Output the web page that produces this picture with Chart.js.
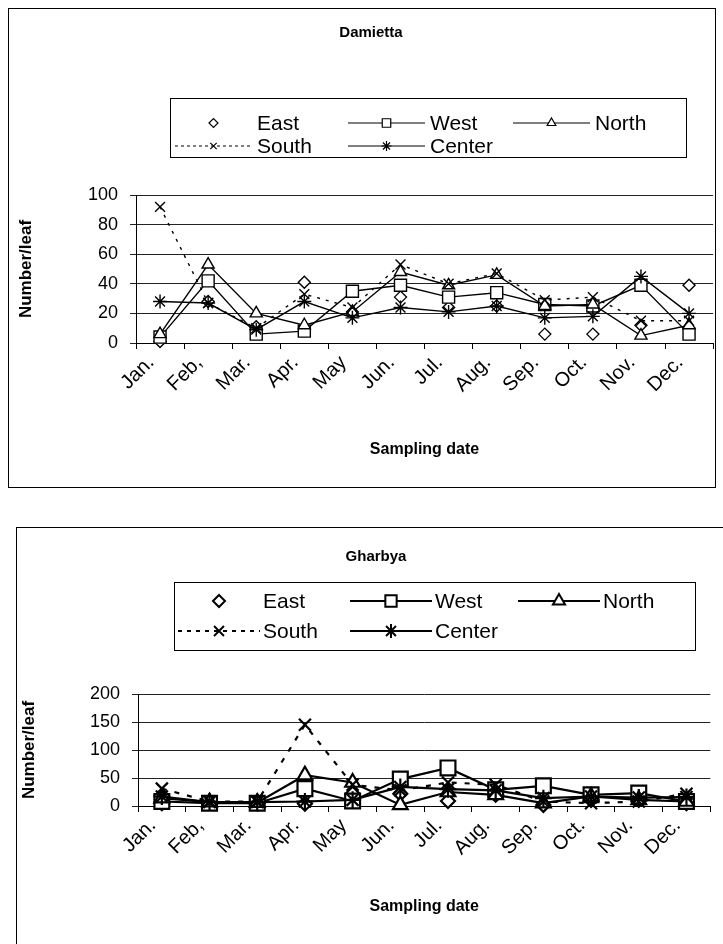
<!DOCTYPE html>
<html>
<head>
<meta charset="utf-8">
<script src="https://cdn.jsdelivr.net/npm/chart.js@4.4.1/dist/chart.umd.min.js"></script>
<style>
  html, body { margin: 0; padding: 0; background: #fff; overflow: hidden; }
  body { width: 723px; height: 944px; position: relative; }
  canvas { position: absolute; left: 0; }
  .frame { position: absolute; border: 1px solid #000; box-sizing: border-box; }
</style>
</head>
<body>
<div class="frame" style="left:8px;top:8px;width:708px;height:480px"></div>
<div class="frame" style="left:16px;top:527px;width:720px;height:440px"></div>
<canvas id="damietta" width="723" height="500" style="top:0"></canvas>
<canvas id="gharbya" width="723" height="439" style="top:505px"></canvas>
<script>
// DATA ---------------------------------------------------------------

const months = ['Jan.', 'Feb,', 'Mar.', 'Apr.', 'May', 'Jun.', 'Jul.', 'Aug.', 'Sep.', 'Oct.', 'Nov.', 'Dec.'];
const seriesNames = ['East', 'West', 'North', 'South', 'Center'];

// Damietta (number/leaf)
const damEast   = [1, 28, 11, 41, 21, 31, 24, 25, 6, 6, 12, 39];
const damWest   = [4, 42, 6, 8, 35, 39, 31, 34, 26, 25, 39, 6];
const damNorth  = [6, 53, 20, 12, 21, 48, 39, 46, 25, 26, 5, 12];
const damSouth  = [92, 27, 10, 33, 24, 53, 40, 47, 29, 31, 15, 15];
const damCenter = [28, 27, 9, 28, 17, 24, 21, 25, 17, 18, 45, 20];
const damTicks  = [0, 20, 40, 60, 80, 100];

// Gharbya (number/leaf)
const ghaEast   = [5, 7, 5, 4, 22, 22, 9, 20, 2, 11, 11, 5];
const ghaWest   = [8, 5, 5, 31, 9, 48, 68, 29, 36, 20, 23, 8];
const ghaNorth  = [14, 7, 6, 55, 42, 2, 25, 20, 5, 17, 11, 8];
const ghaSouth  = [31, 8, 8, 145, 38, 28, 42, 38, 8, 5, 8, 22];
const ghaCenter = [17, 7, 7, 8, 11, 34, 30, 28, 14, 17, 15, 16];
const ghaTicks  = [0, 50, 100, 150, 200];

const FONT = '"Liberation Sans", Arial, sans-serif';
const markerStyles = ['rectRot', 'rect', 'triangle', 'crossRot', 'star'];

// LEGEND + TITLE (drawn on the canvas, Excel style box) --------------

const boxLegend = {
    id: 'boxLegend',
    afterDraw(chart, args, o) {
        const ctx = chart.ctx;
        ctx.save();
        ctx.fillStyle = '#000';
        ctx.textBaseline = 'middle';
        ctx.textAlign = 'center';
        ctx.font = 'bold 15px ' + FONT;
        ctx.fillText(o.title, o.titleX, o.titleY);

        ctx.strokeStyle = '#000';
        ctx.lineWidth = 1;
        ctx.strokeRect(o.box[0] + 0.5, o.box[1] + 0.5, o.box[2], o.box[3]);

        ctx.textAlign = 'left';
        ctx.font = o.fontSize + 'px ' + FONT;
        chart.data.datasets.forEach((ds, i) => {
            const x = o.cols[i % 3];
            const y = o.rows[Math.floor(i / 3)];
            ctx.lineWidth = o.lineWidth;
            if (ds.showLine) {
                ctx.setLineDash(ds.borderDash.length ? o.dash : []);
                ctx.beginPath();
                ctx.moveTo(x, y);
                ctx.lineTo(x + o.sample, y);
                ctx.stroke();
                ctx.setLineDash([]);
            }
            ctx.fillStyle = '#fff';
            Chart.helpers.drawPoint(ctx, {
                pointStyle: ds.pointStyle, radius: o.radius[i], borderWidth: o.lineWidth, rotation: 0
            }, x + o.sample / 2, y);
            ctx.fillStyle = '#000';
            ctx.fillText(ds.label, x + o.sample + o.gap, y + 1);
        });
        ctx.restore();
    }
};

// CHARTS --------------------------------------------------------------

function buildDatasets(values, lay) {
    return values.map((data, i) => ({
        label: seriesNames[i],
        data: data,
        showLine: i !== 0,
        borderColor: '#000',
        backgroundColor: '#fff',
        borderWidth: lay.lineWidth,
        borderDash: i === 3 ? lay.dash : [],
        pointStyle: markerStyles[i],
        pointRadius: lay.radius[i],
        pointBorderWidth: lay.lineWidth,
        pointBackgroundColor: '#fff',
        pointBorderColor: '#000',
        tension: 0,
        clip: false,
        order: 4 - i
    }));
}

function makeChart(id, values, yTicks, lay) {
    return new Chart(document.getElementById(id), {
        type: 'line',
        data: { labels: months, datasets: buildDatasets(values, lay) },
        options: {
            responsive: false,
            animation: false,
            devicePixelRatio: 1,
            layout: { padding: { top: lay.top, right: lay.right, bottom: 0, left: 0 } },
            plugins: {
                legend: { display: false },
                tooltip: { enabled: false },
                boxLegend: lay.legend
            },
            scales: {
                x: {
                    offset: true,
                    grid: { offset: true, drawOnChartArea: false, drawTicks: true, tickLength: 6, color: '#000' },
                    border: { color: '#000', width: 1 },
                    ticks: {
                        autoSkip: false, maxRotation: 45, minRotation: 45, padding: 2,
                        labelOffset: lay.labelOffset, color: '#000', font: { size: 20, family: FONT }
                    },
                    title: {
                        display: true, text: 'Sampling date', color: '#000',
                        font: { size: 16, weight: 'bold', family: FONT },
                        padding: { top: 0, bottom: lay.xTitlePad }
                    },
                    afterFit: s => { s.height = lay.xHeight; }
                },
                y: {
                    min: yTicks[0],
                    max: yTicks[yTicks.length - 1],
                    ticks: { stepSize: yTicks[1] - yTicks[0], padding: 12, color: '#000', font: { size: 18, family: FONT } },
                    grid: { color: '#222', tickLength: 6 },
                    border: { color: '#000' },
                    title: {
                        display: true, text: 'Number/leaf', color: '#000',
                        font: { size: 17, weight: 'bold', family: FONT },
                        padding: { top: lay.yTitlePad, bottom: 0 }
                    },
                    afterFit: s => { s.width = lay.yWidth; }
                }
            }
        },
        plugins: [boxLegend]
    });
}

makeChart('damietta', [damEast, damWest, damNorth, damSouth, damCenter], damTicks, {
    top: 195, right: 8, yWidth: 136, xHeight: 157, xTitlePad: 41, yTitlePad: 16, labelOffset: -9,
    lineWidth: 1.4, dash: [3, 6], radius: [6, 8.5, 7, 7, 7],
    legend: {
        title: 'Damietta', titleX: 371, titleY: 33,
        box: [170, 98, 516, 59], rows: [123, 146], cols: [175, 348, 513],
        sample: 77, gap: 5, fontSize: 21, lineWidth: 1.2, dash: [3, 3],
        radius: [4.5, 6, 5, 4.5, 5]
    }
});

makeChart('gharbya', [ghaEast, ghaWest, ghaNorth, ghaSouth, ghaCenter], ghaTicks, {
    top: 189, right: 7, yWidth: 138, xHeight: 138, xTitlePad: 28, yTitlePad: 19, labelOffset: -9,
    lineWidth: 2.2, dash: [5, 8], radius: [7, 10.5, 8.5, 8.5, 8.5],
    legend: {
        title: 'Gharbya', titleX: 376, titleY: 52,
        box: [174, 77, 521, 68], rows: [96, 126], cols: [178, 350, 518],
        sample: 82, gap: 3, fontSize: 21, lineWidth: 2, dash: [4, 5],
        radius: [6, 8, 7, 7, 7]
    }
});
</script>
</body>
</html>
